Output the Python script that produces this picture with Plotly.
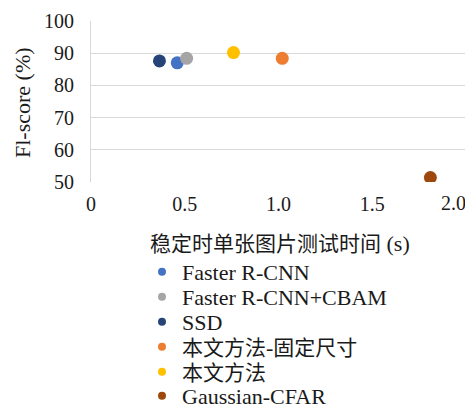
import plotly.graph_objects as go

methods = ["Faster R-CNN", "Faster R-CNN+CBAM", "SSD", "本文方法-固定尺寸", "本文方法", "Gaussian-CFAR"]
test_time = [0.46, 0.51, 0.365, 1.02, 0.76, 1.81]
f1_score = [87.0, 88.4, 87.6, 88.4, 90.2, 51.4]
colors = ["#4472C4", "#A5A5A5", "#264478", "#ED7D31", "#FFC000", "#9E480E"]
x_ticks = [0, 0.5, 1.0, 1.5, 2.0]
x_ticktext = ["0", "0.5", "1.0", "1.5", "2.0"]
y_ticks = [50, 60, 70, 80, 90, 100]

FONT = "Liberation Serif, Noto Sans CJK SC, serif"
CJK = '<span style="font-size:21px">{}</span>'

# the page body has an 8px margin, so the figure is sized to fill the rest
W, H = 465, 403
L, R, T, B = 83, 7, 13, 229
PW, PH = W - L - R, H - T - B
TXT = "#1a1a1a"


def px_to_paper(px, py):
    return (px - L) / PW, (H - B - py) / PH


def label(s):
    out, buf, cjk = "", "", None
    for ch in s:
        is_cjk = ord(ch) > 0x2E80
        if cjk is None or is_cjk == cjk:
            buf += ch
        else:
            out += CJK.format(buf) if cjk else buf
            buf = ch
        cjk = is_cjk
    out += CJK.format(buf) if cjk else buf
    return out


legend_rows = [264, 289, 314, 339, 364, 388]
legend_ids = ["legend"] + [f"legend{k}" for k in range(2, 7)]

fig = go.Figure()
for i, name in enumerate(methods):
    fig.add_trace(go.Scatter(
        x=[test_time[i]], y=[f1_score[i]], mode="markers", name=label(name),
        showlegend=False, marker=dict(size=13, color=colors[i]),
    ))
for i, name in enumerate(methods):
    fig.add_trace(go.Scatter(
        x=[None], y=[None], mode="markers", name=label(name),
        showlegend=True, legend=legend_ids[i],
        marker=dict(size=8, color=colors[i]),
    ))

legend_layout = {}
for i, lid in enumerate(legend_ids):
    legend_layout[lid] = dict(
        xref="container", yref="container",
        x=134 / W, y=1 - legend_rows[i] / H, xanchor="left", yanchor="middle",
        font=dict(family=FONT, size=22, color=TXT),
        itemwidth=30, bgcolor="rgba(0,0,0,0)",
    )

fig.add_annotation(
    xref="paper", yref="paper", x=1.0, y=0, xanchor="right", yanchor="top",
    yshift=-8, xshift=2, text=x_ticktext[-1], showarrow=False,
    font=dict(family=FONT, size=20, color=TXT),
)
ax, ay = px_to_paper(271.5, 235)
fig.add_annotation(
    xref="paper", yref="paper", x=ax, y=ay,
    xanchor="center", yanchor="middle",
    text=label("稳定时单张图片测试时间") + " (s)", showarrow=False,
    font=dict(family=FONT, size=22, color=TXT),
)
ax, ay = px_to_paper(14, 95)
fig.add_annotation(
    xref="paper", yref="paper", x=ax, y=ay,
    xanchor="center", yanchor="middle", textangle=-90,
    text="Fl-score (%)", showarrow=False,
    font=dict(family=FONT, size=22, color=TXT),
)

fig.update_layout(
    width=W, height=H,
    margin=dict(l=L, r=R, t=T, b=B, autoexpand=False),
    paper_bgcolor="white", plot_bgcolor="white",
    font=dict(family=FONT, size=20, color=TXT),
    showlegend=True,
    xaxis=dict(
        range=[0, 2.0], tickvals=x_ticks[:-1], ticktext=x_ticktext[:-1],
        showgrid=False, zeroline=False, showline=False,
        ticks="", tickfont=dict(size=20, color=TXT), tickangle=0,
        ticklabelstandoff=8,
    ),
    yaxis=dict(
        range=[50, 100], tickvals=y_ticks,
        showgrid=True, gridcolor="#D9D9D9", gridwidth=1,
        zeroline=False, showline=True, linecolor="#D9D9D9", linewidth=1,
        ticks="", tickfont=dict(size=20, color=TXT),
        ticklabelstandoff=12,
    ),
    **legend_layout,
)

fig.write_html("out.html")
